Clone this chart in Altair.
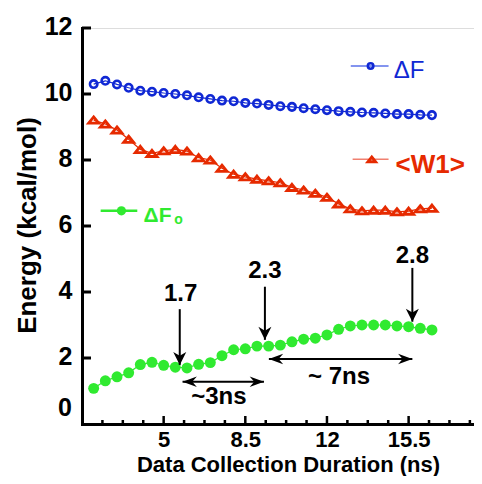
import altair as alt
import pandas as pd

# ---------------- data ----------------
duration = [2.0, 2.5, 3.0, 3.5, 4.0, 4.5, 5.0, 5.5, 6.0, 6.5,
            7.0, 7.5, 8.0, 8.5, 9.0, 9.5, 10.0, 10.5, 11.0, 11.5,
            12.0, 12.5, 13.0, 13.5, 14.0, 14.5, 15.0, 15.5, 16.0, 16.5]
delta_f = [10.30, 10.40, 10.29, 10.19, 10.10, 10.07, 10.03, 10.00, 9.96, 9.90,
           9.85, 9.80, 9.78, 9.73, 9.71, 9.67, 9.63, 9.61, 9.57, 9.54,
           9.51, 9.48, 9.46, 9.44, 9.43, 9.41, 9.39, 9.39, 9.37, 9.36]
w1 = [9.21, 9.09, 8.91, 8.63, 8.32, 8.20, 8.28, 8.32, 8.27, 8.07,
      8.00, 7.75, 7.57, 7.49, 7.42, 7.37, 7.31, 7.17, 7.09, 6.99,
      6.87, 6.67, 6.52, 6.46, 6.48, 6.48, 6.43, 6.45, 6.52, 6.54]
delta_f0 = [1.08, 1.31, 1.43, 1.55, 1.80, 1.87, 1.78, 1.72, 1.70, 1.81,
            1.86, 2.07, 2.25, 2.28, 2.36, 2.36, 2.39, 2.49, 2.57, 2.60,
            2.70, 2.87, 2.97, 3.00, 3.00, 3.00, 2.97, 2.95, 2.90, 2.85]

x_tick_labels = [5, 8.5, 12, 15.5]
x_minor_ticks = [2.375, 3.25, 4.125, 5.875, 6.75, 7.625, 9.375, 10.25, 11.125,
                 12.875, 13.75, 14.625, 16.375, 17.25, 18.125]
y_tick_labels = [2, 4, 6, 8, 10, 12]

# annotations (data coordinates)
ann_text = ["1.7", "2.3", "2.8", "~3ns", "~ 7ns"]
ann_x = [5.73, 9.34, 15.66, 7.37, 12.52]
ann_y = [3.72, 4.42, 4.88, 0.62, 1.21]

v_arrow_x = [5.69, 9.34, 15.66]
v_arrow_top = [3.48, 4.16, 4.73]
v_arrow_tip = [1.79, 2.55, 3.10]

h_arrow_y = [1.28, 1.97]
h_arrow_left = [5.81, 9.51]
h_arrow_right = [9.30, 15.66]

# legend (data coordinates)
leg_line_x = [13.02, 13.10, 2.30]
leg_line_x2 = [14.64, 14.64, 3.87]
leg_line_y = [10.85, 8.02, 6.46]
leg_mark_x = [13.87, 13.92, 3.19]
leg_text_x = [14.86, 14.94, 4.14]
leg_text_y = [10.49, 7.60, 6.13]

# ---------------- style ----------------
BLUE = "#1028d4"
RED = "#e62a00"
GREEN = "#30ea30"
FONT = "Liberation Sans"
TRI = "M0,-0.62L1,0.62L-1,0.62Z"
HEAD_DOWN = "M0,0L-1,-2L0,-1.4L1,-2Z"
HEAD_RIGHT = "M0,0L-2.2,-0.8L-1.5,0L-2.2,0.8Z"
HEAD_LEFT = "M0,0L2.2,-0.8L1.5,0L2.2,0.8Z"

PLOT_W = 392
xs = alt.Scale(domain=[1.5, 1.5 + PLOT_W / 23.33], nice=False, zero=False)
ys = alt.Scale(domain=[0, 12], nice=False, zero=False)

x_axis = alt.Axis(values=x_tick_labels, labelExpr="datum.value", ticks=False, tickSize=0,
                  grid=False, domainWidth=3, domainColor="black", domainCap="square",
                  labelFont=FONT, labelFontSize=22, labelFontWeight="bold", labelColor="black",
                  labelPadding=5, labelOverlap=False, labelFlush=False,
                  title="Data Collection Duration (ns)", titleFont=FONT, titleFontSize=22,
                  titleFontWeight="bold", titleColor="black", titleX=206, titleY=47,
                  titleBaseline="alphabetic", titleAlign="center")
y_axis = alt.Axis(values=y_tick_labels, labelExpr="datum.value", ticks=False, tickSize=0,
                  grid=False, domainWidth=3, domainColor="black", domainCap="square",
                  labelFont=FONT, labelFontSize=25, labelFontWeight="bold", labelColor="black",
                  labelPadding=10, labelOffset=-2, labelBaseline="middle",
                  labelOverlap=False, labelFlush=False,
                  title="Energy (kcal/mol)", titleFont=FONT, titleFontSize=26,
                  titleFontWeight="bold", titleColor="black", titleX=-47, titleY=197,
                  titleAngle=270, titleBaseline="alphabetic", titleAlign="center")

X = alt.X("x:Q", scale=xs, axis=x_axis)
Y = alt.Y("y:Q", scale=ys, axis=y_axis)

def series(vals):
    return pd.DataFrame({"x": duration, "y": vals})

s_f, s_w, s_g = series(delta_f), series(w1), series(delta_f0)

layers = []
# ticks (inward)
layers.append(alt.Chart(pd.DataFrame({"y": y_tick_labels})).mark_rule(color="black", strokeWidth=3)
              .encode(y=Y, x=alt.value(0), x2=alt.value(9)))
layers.append(alt.Chart(pd.DataFrame({"x": x_tick_labels})).mark_rule(color="black", strokeWidth=2.5)
              .encode(x=X, y=alt.value(396), y2=alt.value(388)))
layers.append(alt.Chart(pd.DataFrame({"x": x_minor_ticks})).mark_rule(color="black", strokeWidth=2.5)
              .encode(x=X, y=alt.value(396), y2=alt.value(392)))
# "0" label on y axis
layers.append(alt.Chart(pd.DataFrame({"y": [0], "t": ["0"]})).mark_text(
    font=FONT, fontSize=25, fontWeight="bold", align="right", baseline="middle", dy=-16, color="black")
    .encode(y=Y, x=alt.value(-10), text="t:N"))

# series
layers.append(alt.Chart(s_f).mark_line(color=BLUE, strokeWidth=1.2).encode(x=X, y=Y))
layers.append(alt.Chart(s_f).mark_point(shape="circle", filled=False, size=55, strokeWidth=2.6,
                                        color=BLUE, opacity=1).encode(x=X, y=Y))
layers.append(alt.Chart(s_w).mark_line(color=RED, strokeWidth=1.2).encode(x=X, y=Y))
layers.append(alt.Chart(s_w).mark_point(shape=TRI, filled=False, size=100, strokeWidth=2.8,
                                        color=RED, opacity=1).encode(x=X, y=Y))
layers.append(alt.Chart(s_g).mark_line(color=GREEN, strokeWidth=1.2).encode(x=X, y=Y))
layers.append(alt.Chart(s_g).mark_circle(size=120, color=GREEN, opacity=1).encode(x=X, y=Y))

# legend
leg_colors = ["#5a70ea", "#f08070", GREEN]
leg_widths = [1.5, 1.5, 2.5]
for i in range(3):
    layers.append(alt.Chart(pd.DataFrame({"x": [leg_line_x[i]], "x2": [leg_line_x2[i]], "y": [leg_line_y[i]]}))
                  .mark_rule(color=leg_colors[i], strokeWidth=leg_widths[i])
                  .encode(x=X, x2="x2:Q", y=Y))
layers.append(alt.Chart(pd.DataFrame({"x": [leg_mark_x[0]], "y": [leg_line_y[0]]}))
              .mark_point(shape="circle", filled=False, size=30, strokeWidth=2.6, color=BLUE, opacity=1)
              .encode(x=X, y=Y))
layers.append(alt.Chart(pd.DataFrame({"x": [leg_mark_x[1]], "y": [leg_line_y[1]]}))
              .mark_point(shape=TRI, filled=False, size=60, strokeWidth=2.8, color=RED, opacity=1)
              .encode(x=X, y=Y))
layers.append(alt.Chart(pd.DataFrame({"x": [leg_mark_x[2]], "y": [leg_line_y[2]]}))
              .mark_circle(size=85, color=GREEN, opacity=1).encode(x=X, y=Y))
layers.append(alt.Chart(pd.DataFrame({"x": [leg_text_x[0]], "y": [leg_text_y[0]], "t": ["ΔF"]}))
              .mark_text(font=FONT, fontSize=24, fontWeight="normal", align="left",
                         baseline="alphabetic", color=BLUE).encode(x=X, y=Y, text="t:N"))
layers.append(alt.Chart(pd.DataFrame({"x": [leg_text_x[1]], "y": [leg_text_y[1]], "t": ["<W1>"]}))
              .mark_text(font=FONT, fontSize=26, fontWeight="bold", align="left",
                         baseline="alphabetic", color=RED).encode(x=X, y=Y, text="t:N"))
layers.append(alt.Chart(pd.DataFrame({"x": [leg_text_x[2]], "y": [leg_text_y[2]], "t": ["ΔF"]}))
              .mark_text(font=FONT, fontSize=21, fontWeight="bold", align="left",
                         baseline="alphabetic", color=GREEN).encode(x=X, y=Y, text="t:N"))
layers.append(alt.Chart(pd.DataFrame({"x": [5.45], "y": [6.05], "t": ["o"]}))
              .mark_text(font=FONT, fontSize=14, fontWeight="bold", align="left",
                         baseline="alphabetic", color=GREEN).encode(x=X, y=Y, text="t:N"))

# annotations
layers.append(alt.Chart(pd.DataFrame({"x": ann_x, "y": ann_y, "t": ann_text}))
              .mark_text(font=FONT, fontSize=24, fontWeight="bold", align="center",
                         baseline="alphabetic", color="black").encode(x=X, y=Y, text="t:N"))
layers.append(alt.Chart(pd.DataFrame({"x": v_arrow_x, "y": v_arrow_top, "y2": v_arrow_tip}))
              .mark_rule(color="black", strokeWidth=2).encode(x=X, y=Y, y2="y2:Q"))
layers.append(alt.Chart(pd.DataFrame({"x": v_arrow_x, "y": v_arrow_tip}))
              .mark_point(shape=HEAD_DOWN, filled=True, size=169, strokeWidth=0, color="black", opacity=1)
              .encode(x=X, y=Y))
layers.append(alt.Chart(pd.DataFrame({"x": h_arrow_left, "x2": h_arrow_right, "y": h_arrow_y}))
              .mark_rule(color="black", strokeWidth=2).encode(x=X, x2="x2:Q", y=Y))
layers.append(alt.Chart(pd.DataFrame({"x": h_arrow_left, "y": h_arrow_y}))
              .mark_point(shape=HEAD_LEFT, filled=True, size=169, strokeWidth=0, color="black", opacity=1)
              .encode(x=X, y=Y))
layers.append(alt.Chart(pd.DataFrame({"x": h_arrow_right, "y": h_arrow_y}))
              .mark_point(shape=HEAD_RIGHT, filled=True, size=169, strokeWidth=0, color="black", opacity=1)
              .encode(x=X, y=Y))

chart = alt.layer(*layers).properties(
    width=PLOT_W, height=396,
    autosize=alt.AutoSizeParams(type="none"),
    padding={"left": 74, "top": 20, "right": 0, "bottom": 52},
).configure_view(stroke=None).configure(background="white")

chart.save("out.html", embed_options={"renderer": "svg", "actions": False})
